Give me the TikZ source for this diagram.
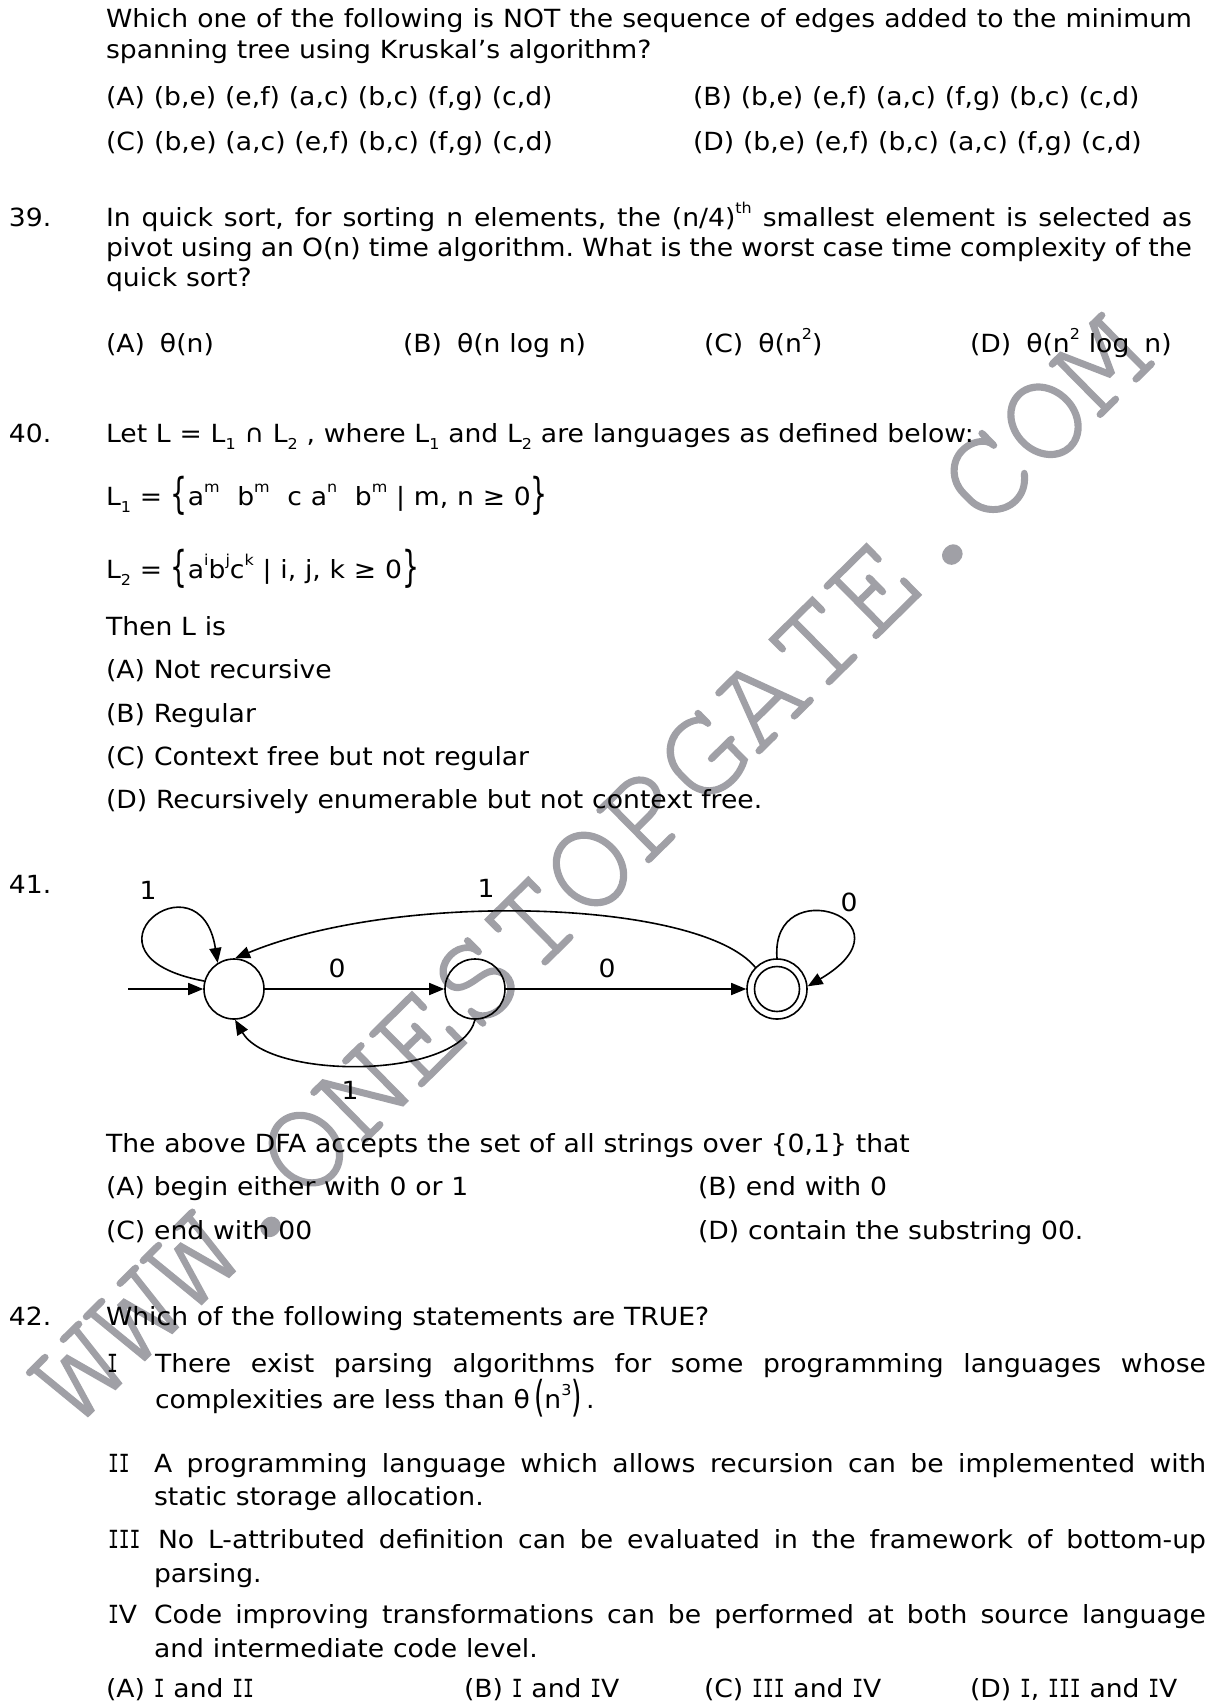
\documentclass[tikz,border=0pt]{standalone}
\usepackage{fontspec}
\setmainfont{DejaVu Sans}[FakeStretch=1.065,WordSpace=1.04]
\newfontfamily\dvmono{DejaVu Sans Mono}
\newfontfamily\wmfont{texgyrecursor-regular}[Extension=.otf,FakeBold=1.2]
\usetikzlibrary{arrows.meta}
\definecolor{wmgray}{RGB}{160,160,166}
\frenchspacing
\newcommand\sps[1]{\raisebox{0.5em}{\fontsize{15}{15}\selectfont #1}}
\newcommand\sbs[1]{\raisebox{-0.28em}{\fontsize{15}{15}\selectfont #1}}
\newcommand\tallb[1]{\raisebox{-3pt}{\scalebox{1}[1.7]{#1}}}
\newcommand\VI{\scalebox{0.72}[1]{\dvmono I}}
\newcommand\jl[2]{\makebox[#1pt][s]{#2}}
\tikzset{
  txt/.style={anchor=base west, inner sep=0pt, outer sep=0pt, font=\fontsize{25}{30}\selectfont\frenchspacing},
  state/.style={circle, draw, line width=1.6pt, minimum size=60pt, inner sep=0pt},
  lbl/.style={inner sep=0pt, font=\fontsize{25}{30}\selectfont},
  edge/.style={line width=1.6pt, -{Triangle[length=15pt,width=12pt]}},
  wmark/.style={inner sep=0pt, text=wmgray, font=\wmfont\fontsize{133}{133}\selectfont}
}
\begin{document}
\begin{tikzpicture}[x=1pt,y=-1pt]
\useasboundingbox (0,0) rectangle (1210,1702);
\fill[white] (0,0) rectangle (1210,1702);
% watermark
\node[wmark, rotate=44.6] (wm) at (590,869) {WWW.ONESTOPGATE.COM};
% Q38
\node[txt] (a1) at (106,28) {\jl{1086}{Which one of the following is NOT the sequence of edges added to the minimum}};
\node[txt] (a2) at (106,59) {spanning tree using Kruskal’s algorithm?};
\node[txt] (a3) at (106,105) {(A) (b,e) (e,f) (a,c) (b,c) (f,g) (c,d)};
\node[txt] (a4) at (693,105) {(B) (b,e) (e,f) (a,c) (f,g) (b,c) (c,d)};
\node[txt] (a5) at (106,150) {(C) (b,e) (a,c) (e,f) (b,c) (f,g) (c,d)};
\node[txt] (a6) at (693,150) {(D) (b,e) (e,f) (b,c) (a,c) (f,g) (c,d)};
% Q39
\node[txt] (b0) at (9,226) {39.};
\node[txt] (b1) at (106,226) {\jl{1086}{In quick sort, for sorting n elements, the (n/4)\sps{th} smallest element is selected as}};
\node[txt] (b2) at (106,256) {\jl{1086}{pivot using an O(n) time algorithm. What is the worst case time complexity of the}};
\node[txt] (b3) at (106,286) {quick sort?};
\node[txt] (b4) at (106,352) {(A)\hspace{0.6em}θ(n)};
\node[txt] (b5) at (403,352) {(B)\hspace{0.6em}θ(n log n)};
\node[txt] (b6) at (704,352) {(C)\hspace{0.6em}θ(n\sps{2})};
\node[txt] (b7) at (970,352) {(D)\hspace{0.6em}θ(n\sps{2} log\hspace{0.6em}n)};
% Q40
\node[txt] (c0) at (9,442) {40.};
\node[txt] (c1) at (106,442) {Let L = L\sbs{1} ∩ L\sbs{2} , where L\sbs{1} and L\sbs{2} are languages as defined below:};
\node[txt] (c2) at (106,505) {L\sbs{1} = \tallb{\{}a\sps{m}\ \ b\sps{m}\ \ c a\sps{n}\ \ b\sps{m} | m, n ≥ 0\tallb{\}}};
\node[txt] (c3) at (106,578) {L\sbs{2} = \tallb{\{}a\sps{i}b\sps{j}c\sps{k} | i, j, k ≥ 0\tallb{\}}};
\node[txt] (c4) at (106,635) {Then L is};
\node[txt] (c5) at (106,678) {(A) Not recursive};
\node[txt] (c6) at (106,722) {(B) Regular};
\node[txt] (c7) at (106,765) {(C) Context free but not regular};
\node[txt] (c8) at (106,808) {(D) Recursively enumerable but not context free.};
% Q41
\node[txt] (d0) at (9,893) {41.};
\node[state] (q0) at (234,989) {};
\node[state] (q1) at (475,989) {};
\node[state] (q2) at (777,989) {};
\node[circle, draw, line width=1.6pt, minimum size=45pt, inner sep=0pt] (q2in) at (q2) {};
\coordinate (start) at (128,989);
\draw[edge] (start) -- (q0);
\draw[edge] (q0) -- (q1);
\draw[edge] (q1) -- (q2);
\draw[edge] (q0.165) .. controls (65,955) and (200,850) .. (q0.122);
\draw[edge] (q2.135) .. controls (700,900) and (400,890) .. (q0.88);
\draw[edge] (q1.270) .. controls (460,1080) and (270,1080) .. (q0.272);
\draw[edge] (q2.90) .. controls (770,870) and (920,920) .. (q2.5);
\node[lbl] (l1) at (148,890) {1};
\node[lbl] (l2) at (337,968) {0};
\node[lbl] (l3) at (607,968) {0};
\node[lbl] (l4) at (486,888) {1};
\node[lbl] (l5) at (849,902) {0};
\node[lbl] (l6) at (350,1090) {1};
\node[txt] (d1) at (106,1152) {The above DFA accepts the set of all strings over \{0,1\} that};
\node[txt] (d2) at (106,1195) {(A) begin either with 0 or 1};
\node[txt] (d3) at (698,1195) {(B) end with 0};
\node[txt] (d4) at (106,1239) {(C) end with 00};
\node[txt] (d5) at (698,1239) {(D) contain the substring 00.};
% Q42
\node[txt] (e0) at (9,1325) {42.};
\node[txt] (e1) at (106,1325) {Which of the following statements are TRUE?};
\node[txt] (e2) at (107,1372) {\VI};
\node[txt] (e3) at (155,1372) {\jl{1051}{There exist parsing algorithms for some programming languages whose}};
\node[txt] (e4) at (155,1408) {complexities are less than θ\,\tallb{(}n\sps{3}\tallb{)}\,.};
\node[txt] (e5) at (108,1472) {\VI\VI};
\node[txt] (e6) at (154,1472) {\jl{1052}{A programming language which allows recursion can be implemented with}};
\node[txt] (e7) at (154,1505) {static storage allocation.};
\node[txt] (e8) at (108,1548) {\VI\VI\VI};
\node[txt] (e9) at (158,1548) {\jl{1048}{No L-attributed definition can be evaluated in the framework of bottom-up}};
\node[txt] (e10) at (154,1582) {parsing.};
\node[txt] (e11) at (108,1623) {\VI V};
\node[txt] (e12) at (154,1623) {\jl{1052}{Code improving transformations can be performed at both source language}};
\node[txt] (e13) at (154,1657) {and intermediate code level.};
\node[txt] (e14) at (106,1697) {(A) \VI\ and \VI\VI};
\node[txt] (e15) at (464,1697) {(B) \VI\ and \VI V};
\node[txt] (e16) at (704,1697) {(C) \VI\VI\VI\ and \VI V};
\node[txt] (e17) at (970,1697) {(D) \VI, \VI\VI\VI\ and \VI V};
\end{tikzpicture}
\end{document}
